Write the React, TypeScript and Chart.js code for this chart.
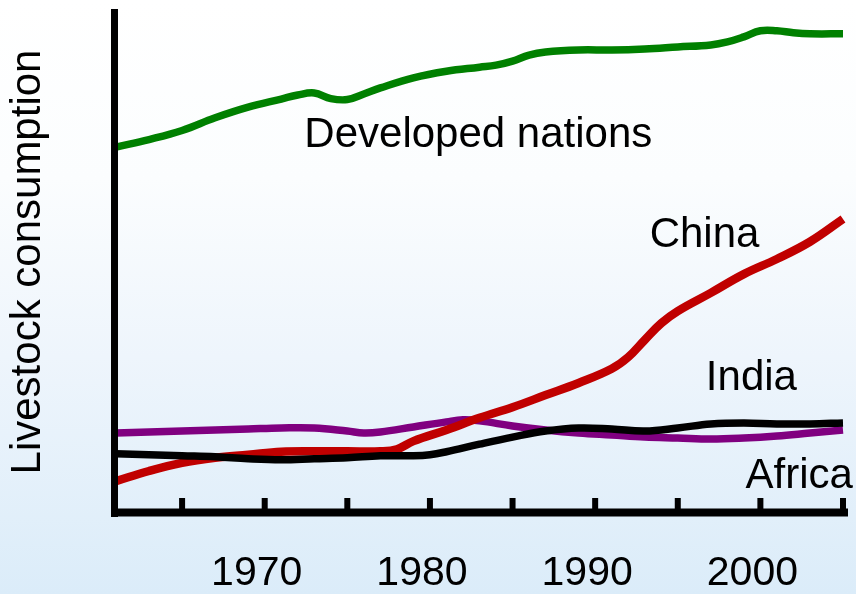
import React, { useEffect, useRef } from "react";
import { Chart, registerables } from "chart.js";

Chart.register(...registerables);

const FONT = '"Liberation Sans", Arial, Helvetica, sans-serif';

const developedYears = [1961, 1963, 1965, 1967, 1969, 1971, 1972, 1973, 1974, 1975, 1976, 1977, 1979, 1981, 1983, 1984, 1985, 1986, 1987, 1989, 1991, 1993, 1995, 1997, 1998, 1999, 2000, 2001, 2002, 2003, 2005];
const developedValues = [72.7, 74.2, 76.0, 78.5, 80.6, 82.2, 83.0, 83.4, 82.3, 82.1, 83.2, 84.4, 86.4, 87.7, 88.5, 88.9, 89.7, 90.9, 91.5, 91.9, 91.9, 92.1, 92.5, 92.9, 93.5, 94.5, 95.7, 95.7, 95.3, 95.1, 95.1];

const chinaYears = [1961, 1963, 1965, 1967, 1969, 1971, 1973, 1975, 1977, 1978, 1979, 1981, 1983, 1985, 1987, 1989, 1991, 1992, 1993, 1994, 1995, 1997, 1999, 2001, 2003, 2005];
const chinaValues = [6.7, 8.7, 10.3, 11.3, 11.9, 12.5, 12.6, 12.6, 12.6, 13.0, 14.6, 16.8, 19.2, 21.3, 23.7, 26.1, 28.9, 31.2, 34.6, 37.9, 40.3, 43.9, 47.6, 50.6, 54.0, 58.5];

const indiaYears = [1961, 1963, 1965, 1967, 1969, 1971, 1973, 1975, 1976, 1977, 1979, 1981, 1982, 1983, 1985, 1987, 1989, 1991, 1993, 1995, 1997, 1999, 2001, 2003, 2005];
const indiaValues = [16.2, 16.4, 16.6, 16.8, 17.0, 17.2, 17.2, 16.6, 16.2, 16.4, 17.4, 18.4, 18.8, 18.6, 17.6, 16.8, 16.2, 15.8, 15.4, 15.2, 15.0, 15.2, 15.6, 16.2, 16.8];

const africaYears = [1961, 1963, 1965, 1967, 1969, 1971, 1973, 1975, 1977, 1979, 1980, 1981, 1983, 1985, 1987, 1989, 1991, 1993, 1995, 1997, 1999, 2001, 2003, 2005];
const africaValues = [12.1, 11.9, 11.7, 11.5, 11.1, 10.9, 11.1, 11.3, 11.7, 11.7, 11.9, 12.5, 14.0, 15.4, 16.6, 17.2, 17.0, 16.6, 17.2, 18.0, 18.2, 18.0, 18.0, 18.2];

const tickYears = [1965, 1970, 1975, 1980, 1985, 1990, 1995, 2000, 2005];
const yAxisTitle = "Livestock consumption";

const seriesLabels = [
  { text: "Developed nations", year: 1972.4, value: 72.8 },
  { text: "China", year: 1993.3, value: 53.0 },
  { text: "India", year: 1996.7, value: 24.7 },
  { text: "Africa", year: 1999.1, value: 5.3 },
];

const pts = (xs: number[], ys: number[]) => xs.map((x, i) => ({ x, y: ys[i] }));

export default function App() {
  const ref = useRef<HTMLCanvasElement | null>(null);

  useEffect(() => {
    if (!ref.current) return;

    const bgPlugin = {
      id: "bg",
      beforeDraw(chart: any) {
        const { ctx, width, height } = chart;
        const g = ctx.createLinearGradient(0, 0, 0, height);
        g.addColorStop(0, "#ffffff");
        g.addColorStop(0.3, "#fbfdfe");
        g.addColorStop(0.6, "#eef5fc");
        g.addColorStop(1, "#dbecf9");
        ctx.save();
        ctx.fillStyle = g;
        ctx.fillRect(0, 0, width, height);
        ctx.restore();
      },
    };

    const axesPlugin = {
      id: "axesDraw",
      afterDatasetsDraw(chart: any) {
        const { ctx, chartArea: ca, scales } = chart;
        const xs = scales.x;
        const ys = scales.y;
        ctx.save();
        ctx.fillStyle = "#000";
        ctx.fillRect(ca.left - 5, ca.top, 7, ca.bottom + 2 - ca.top);
        ctx.fillRect(ca.left - 5, ca.bottom - 6.5, ca.right + 5 - (ca.left - 5), 8);
        tickYears.forEach((yr) => {
          const px = xs.getPixelForValue(yr);
          ctx.fillRect(px - 3, ca.bottom - 17, 6, 17);
        });
        ctx.font = `42px ${FONT}`;
        ctx.textAlign = "left";
        ctx.textBaseline = "alphabetic";
        seriesLabels.forEach((l) => {
          ctx.fillText(l.text, xs.getPixelForValue(l.year), ys.getPixelForValue(l.value));
        });
        ctx.restore();
      },
    };

    const chart = new Chart(ref.current, {
      type: "line",
      data: {
        datasets: [
          { label: "Africa", data: pts(africaYears, africaValues), borderColor: "#000000", borderWidth: 7.5 },
          { label: "China", data: pts(chinaYears, chinaValues), borderColor: "#c00000", borderWidth: 8.5 },
          { label: "India", data: pts(indiaYears, indiaValues), borderColor: "#800080", borderWidth: 7.5 },
          { label: "Developed nations", data: pts(developedYears, developedValues), borderColor: "#008000", borderWidth: 7.5 },
        ] as any,
      },
      options: {
        animation: false,
        responsive: false,
        maintainAspectRatio: false,
        layout: { padding: { left: 0, right: 13, top: 9, bottom: 0 } },
        elements: {
          point: { radius: 0, hoverRadius: 0 },
          line: { tension: 0.4, fill: false, borderCapStyle: "butt", borderJoinStyle: "round" },
        },
        datasets: { line: { clip: false } as any },
        plugins: {
          legend: { display: false },
          tooltip: { enabled: false },
          title: { display: false },
        },
        scales: {
          x: {
            type: "linear",
            min: 1961,
            max: 2005,
            grid: { display: false, drawTicks: false },
            border: { display: false },
            ticks: {
              stepSize: 10,
              includeBounds: false,
              autoSkip: false,
              maxRotation: 0,
              padding: 34,
              labelOffset: -8,
              color: "#000",
              font: { family: FONT, size: 41 },
              callback: (v: any) => (Number(v) % 10 === 0 ? String(v) : ""),
            },
            afterFit: (s: any) => {
              s.height = 79;
            },
          },
          y: {
            min: 0,
            max: 100,
            grid: { display: false, drawTicks: false },
            border: { display: false },
            ticks: { display: false },
            title: {
              display: true,
              text: yAxisTitle,
              color: "#000",
              font: { family: FONT, size: 42 },
              padding: { top: 3, bottom: 0 },
            },
            afterFit: (s: any) => {
              s.width = 116;
            },
          },
        },
      },
      plugins: [bgPlugin, axesPlugin],
    });

    return () => chart.destroy();
  }, []);

  return (
    <div style={{ position: "fixed", left: 0, top: 0, width: 856, height: 594 }}>
      <canvas ref={ref} width={856} height={594} style={{ display: "block" }} />
    </div>
  );
}
